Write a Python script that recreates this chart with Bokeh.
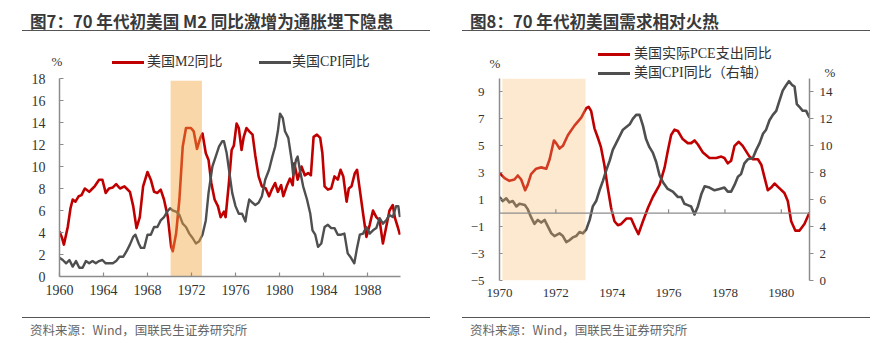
from bokeh.plotting import figure
from bokeh.models import FixedTicker, LinearAxis, Range1d, Div
from bokeh.layouts import row, column
from bokeh.embed import file_html
from bokeh.resources import INLINE

# ---------------- data: chart 7 ----------------
m2_year = [1960.0, 1960.2, 1960.4, 1960.75, 1961.0, 1961.2, 1961.45, 1961.75, 1962.0, 1962.3, 1962.7, 1963.0,
           1963.2, 1963.6, 1963.9, 1964.2, 1964.5, 1964.85, 1965.15, 1965.5, 1965.9, 1966.1, 1966.4, 1966.7,
           1967.0, 1967.3, 1967.6, 1968.0, 1968.3, 1968.6, 1968.9, 1969.2, 1969.5, 1969.85, 1970.15, 1970.3,
           1970.6, 1970.9, 1971.2, 1971.5, 1971.95, 1972.2, 1972.5, 1972.8, 1973.0, 1973.3, 1973.55, 1973.8,
           1974.1, 1974.4, 1974.65, 1974.95, 1975.1, 1975.4, 1975.65, 1975.85, 1976.1, 1976.3, 1976.55, 1976.75,
           1977.0, 1977.25, 1977.55, 1977.8, 1978.1, 1978.4, 1978.75, 1979.05, 1979.3, 1979.6, 1979.85, 1980.15,
           1980.35, 1980.65, 1980.95, 1981.2, 1981.35, 1981.65, 1982.0, 1982.3, 1982.6, 1982.85, 1983.1, 1983.4,
           1983.7, 1983.9, 1984.1, 1984.4, 1984.7, 1985.0, 1985.3, 1985.55, 1985.8, 1986.1, 1986.3, 1986.55,
           1986.85, 1987.05, 1987.3, 1987.6, 1987.9, 1988.2, 1988.5, 1988.8, 1989.1, 1989.4, 1989.7, 1990.0,
           1990.3, 1990.5, 1990.75, 1990.95]
m2_val = [4.1, 3.6, 2.9, 4.5, 6.2, 7.0, 6.8, 7.3, 7.4, 8.0, 7.7, 8.0,
          8.2, 8.8, 8.8, 7.6, 8.0, 8.1, 8.4, 8.0, 8.2, 8.0, 7.7, 6.4,
          4.4, 5.4, 8.2, 9.5, 8.8, 7.7, 7.6, 7.9, 7.0, 5.4, 2.7, 2.3,
          3.9, 7.0, 11.8, 13.5, 13.5, 13.2, 11.6, 12.6, 13.0, 11.2, 10.6, 8.5,
          7.0, 6.4, 5.4, 5.9, 5.4, 8.5, 11.5, 11.9, 13.9, 13.5, 11.5, 12.7,
          13.5, 13.2, 12.9, 11.0, 9.1, 8.2, 8.0, 7.3, 7.9, 8.5, 7.7, 8.3,
          7.3, 8.2, 8.9, 8.3, 10.3, 8.8, 10.0, 9.2, 9.4, 9.2, 12.7, 12.9,
          12.6, 11.2, 8.2, 7.9, 8.0, 9.1, 8.8, 9.7, 9.1, 6.8, 8.0, 8.2,
          9.4, 9.7, 7.9, 5.7, 3.6, 4.7, 6.0, 5.4, 5.1, 3.0, 4.5, 6.0,
          6.5, 5.3, 4.5, 3.8]

cpi7_year = [1960.0, 1960.3, 1960.6, 1960.9, 1961.2, 1961.5, 1961.8, 1962.1, 1962.4, 1962.7, 1963.0, 1963.3,
             1963.6, 1963.9, 1964.2, 1964.5, 1964.85, 1965.15, 1965.45, 1965.8, 1966.1, 1966.4, 1966.7, 1966.9,
             1967.2, 1967.4, 1967.7, 1968.0, 1968.3, 1968.6, 1968.9, 1969.2, 1969.5, 1969.8, 1970.05, 1970.3,
             1970.6, 1970.9, 1971.2, 1971.5, 1971.8, 1972.1, 1972.4, 1972.7, 1973.0, 1973.3, 1973.55, 1973.9,
             1974.2, 1974.5, 1974.8, 1974.95, 1975.2, 1975.45, 1975.7, 1976.0, 1976.3, 1976.6, 1976.9, 1977.05,
             1977.25, 1977.55, 1977.8, 1978.1, 1978.4, 1978.7, 1979.05, 1979.35, 1979.6, 1979.85, 1980.05, 1980.3,
             1980.5, 1980.8, 1981.1, 1981.25, 1981.5, 1981.65, 1981.85, 1982.15, 1982.5, 1982.8, 1983.0, 1983.25,
             1983.5, 1983.8, 1984.1, 1984.4, 1984.7, 1985.0, 1985.3, 1985.6, 1985.9, 1986.2, 1986.5, 1986.8,
             1987.05, 1987.3, 1987.6, 1987.9, 1988.2, 1988.5, 1988.8, 1989.1, 1989.4, 1989.7, 1990.0, 1990.3,
             1990.6, 1990.8, 1990.95]
cpi7_val = [1.7, 1.5, 1.2, 1.5, 0.9, 1.4, 0.8, 0.8, 1.4, 1.2, 1.4, 1.2,
            1.4, 1.5, 1.2, 1.2, 1.2, 1.4, 1.8, 1.8, 2.3, 2.9, 3.6, 3.8,
            3.0, 2.6, 2.6, 3.8, 3.8, 4.5, 4.5, 5.1, 5.4, 5.9, 6.2, 6.0,
            5.9, 5.6, 4.8, 4.5, 3.9, 3.5, 3.0, 3.2, 3.8, 5.1, 7.6, 10.0,
            10.9, 11.8, 12.3, 12.3, 11.2, 9.4, 7.6, 6.4, 5.7, 5.7, 5.0, 6.0,
            7.0, 6.7, 6.5, 6.7, 7.3, 8.8, 9.7, 10.9, 11.8, 13.2, 14.8, 14.4,
            13.2, 12.6, 10.6, 9.2, 10.6, 10.9, 9.7, 8.2, 7.0, 5.7, 4.2, 3.8,
            2.7, 3.0, 4.5, 4.7, 4.4, 4.4, 3.8, 3.8, 3.9, 2.1, 1.7, 1.2,
            2.6, 3.8, 3.9, 4.5, 3.9, 4.2, 4.4, 5.3, 4.8, 5.1, 5.6, 5.4,
            6.4, 6.4, 5.4]

shade7 = [1970.1, 1972.95]
x_range7 = (1960, 1991)
y_range7 = (0, 18)
x_ticks7 = [1960, 1964, 1968, 1972, 1976, 1980, 1984, 1988]
y_ticks7 = [0, 2, 4, 6, 8, 10, 12, 14, 16, 18]

# ---------------- data: chart 8 ----------------
pce_year = [1970.0, 1970.18, 1970.35, 1970.53, 1970.65, 1970.77, 1970.91, 1971.0, 1971.12, 1971.3, 1971.48, 1971.66,
            1971.78, 1971.93, 1972.01, 1972.13, 1972.25, 1972.43, 1972.66, 1972.9, 1973.08, 1973.16, 1973.25, 1973.37,
            1973.49, 1973.6, 1973.72, 1973.84, 1973.96, 1974.08, 1974.2, 1974.32, 1974.5, 1974.67, 1974.82, 1974.93,
            1975.09, 1975.27, 1975.44, 1975.68, 1975.86, 1975.97, 1976.09, 1976.21, 1976.33, 1976.5, 1976.68, 1976.8,
            1976.92, 1977.04, 1977.22, 1977.45, 1977.69, 1977.87, 1977.98, 1978.1, 1978.22, 1978.34, 1978.49, 1978.63,
            1978.87, 1978.99, 1979.17, 1979.29, 1979.41, 1979.52, 1979.64, 1979.76, 1979.91, 1980.11, 1980.23, 1980.35,
            1980.5, 1980.64, 1980.82, 1981.0]
pce_val = [3.0, 2.6, 2.4, 2.5, 2.8, 2.5, 1.7, 2.1, 2.9, 3.3, 3.4, 3.3,
           4.0, 5.4, 5.2, 4.8, 5.0, 5.8, 6.5, 7.1, 7.8, 7.9, 7.6, 6.3,
           5.6, 4.9, 3.6, 1.9, 0.4, -0.6, -0.9, -0.8, -0.4, -0.4, -1.1, -1.55,
           -0.6, 0.4, 1.2, 2.1, 3.4, 4.6, 5.8, 6.2, 6.1, 5.5, 5.2, 5.2,
           5.4, 5.1, 4.5, 4.1, 4.1, 4.2, 4.1, 3.7, 3.9, 5.0, 5.3, 5.0,
           4.2, 4.0, 4.0, 3.6, 2.6, 1.7, 1.9, 2.2, 1.9, 1.5, 0.9, -0.6,
           -1.3, -1.3, -0.8, 0.05]

cpi8_year = [1970.0, 1970.12, 1970.24, 1970.35, 1970.47, 1970.6, 1970.71, 1970.9, 1971.0, 1971.12, 1971.24, 1971.36,
             1971.48, 1971.6, 1971.72, 1971.84, 1971.95, 1972.13, 1972.25, 1972.37, 1972.49, 1972.6, 1972.72, 1972.84,
             1972.96, 1973.08, 1973.2, 1973.31, 1973.43, 1973.55, 1973.67, 1973.79, 1973.91, 1974.02, 1974.14, 1974.26,
             1974.38, 1974.5, 1974.62, 1974.73, 1974.85, 1974.97, 1975.09, 1975.2, 1975.32, 1975.44, 1975.56, 1975.68,
             1975.8, 1975.97, 1976.15, 1976.33, 1976.45, 1976.56, 1976.68, 1976.8, 1976.92, 1977.04, 1977.16, 1977.28,
             1977.45, 1977.63, 1977.81, 1977.98, 1978.1, 1978.22, 1978.34, 1978.46, 1978.57, 1978.69, 1978.81, 1978.99,
             1979.11, 1979.23, 1979.35, 1979.46, 1979.58, 1979.7, 1979.82, 1979.94, 1980.05, 1980.17, 1980.27, 1980.39,
             1980.47, 1980.55, 1980.64, 1980.76, 1980.88, 1981.0]
cpi8_val = [6.2, 5.9, 6.1, 5.8, 5.9, 5.5, 5.7, 5.6, 5.3, 4.7, 4.2, 4.5,
            4.3, 4.5, 4.0, 3.5, 3.3, 3.5, 3.3, 2.85, 3.0, 3.2, 3.3, 3.6,
            3.5, 3.8, 4.5, 5.5, 5.9, 6.7, 7.4, 8.2, 8.9, 9.7, 10.2, 10.7,
            11.2, 11.4, 11.6, 12.0, 12.3, 12.3, 11.5, 10.5, 9.9, 9.5, 8.8, 7.8,
            7.3, 6.8, 6.6, 6.2, 6.2, 5.7, 5.6, 5.5, 4.9, 5.5, 6.4, 7.0,
            6.9, 6.7, 6.8, 6.9, 6.6, 6.6, 7.1, 7.7, 7.9, 8.7, 9.0, 9.1,
            9.7, 10.2, 10.9, 11.2, 11.9, 12.3, 12.6, 13.4, 14.1, 14.5, 14.8, 14.5,
            14.4, 13.1, 12.9, 12.6, 12.6, 12.1]

shade8 = [1970.1, 1973.05]
x_range8 = (1970, 1981)
yl_range8 = (-5, 10)
yr_range8 = (0, 15)
x_ticks8 = [1970, 1972, 1974, 1976, 1978, 1980]
yl_ticks8 = [-5, -3, -1, 1, 3, 5, 7, 9]
yr_ticks8 = [0, 2, 4, 6, 8, 10, 12, 14]

# ---------------- styles ----------------
RED = "#C00000"
GREY = "#4F4F4F"
AXIS = "#8C8C8C"
TXT = "#333333"
SERIF_CSS = "'Liberation Serif','Noto Sans CJK SC'"


def style_axis(ax, size="14px", tick_in=4, tick_out=0, standoff=8):
    ax.axis_line_color = AXIS
    ax.axis_line_width = 1.5
    ax.major_tick_line_color = AXIS
    ax.major_tick_line_width = 1.2
    ax.major_tick_in = tick_in
    ax.major_tick_out = tick_out
    ax.minor_tick_line_color = None
    ax.major_label_text_font = "Liberation Serif"
    ax.major_label_text_font_size = size
    ax.major_label_text_color = TXT
    ax.major_label_standoff = standoff


def abs_text(text, left, cy, size=14, align_center=False):
    tr = "transform:translateX(-50%);" if align_center else ""
    return ('<div style="position:absolute;left:%spx;top:%spx;line-height:18px;height:18px;%s'
            'font-family:%s;font-size:%spx;color:%s;white-space:nowrap;">%s</div>'
            % (left, cy - 9, tr, SERIF_CSS, size, TXT, text))


def abs_swatch(color, left, cy, width=32):
    return ('<div style="position:absolute;left:%spx;top:%spx;width:%spx;height:3px;background:%s;"></div>'
            % (left, cy - 1.5, width, color))


def header_div(title, left, extras):
    title_html = ('<div style="position:absolute;left:%dpx;top:0px;width:408px;height:26px;box-sizing:border-box;'
                  'border-bottom:1.5px solid #555;padding-left:8px;padding-top:6px;line-height:20px;'
                  'font-family:\'Noto Sans CJK SC\';font-weight:bold;font-size:16.6px;color:#3a3a3a;'
                  'white-space:nowrap;">%s</div>' % (left, title))
    html = ('<div style="position:relative;width:437px;height:76px;">%s%s</div>'
            % (title_html, "".join(extras)))
    return Div(text=html, width=437, height=76)


def foot_div(text, left):
    html = ('<div style="margin-left:%dpx;margin-top:7px;width:408px;box-sizing:border-box;'
            'border-top:1.5px solid #555;padding-left:8px;padding-top:4px;line-height:16px;'
            'font-family:\'Noto Sans CJK SC\';font-size:12.5px;color:#666;white-space:nowrap;">%s</div>'
            % (left, text))
    return Div(text=html, width=437, height=43)


# ---------------- chart 7 ----------------
p1 = figure(width=437, height=235, x_range=Range1d(*x_range7), y_range=Range1d(*y_range7),
            output_backend="svg", toolbar_location=None, margin=(-16, 0, 0, 0),
            min_border_left=59, min_border_right=37, min_border_top=8, min_border_bottom=29)
p1.outline_line_color = None
p1.grid.grid_line_color = None
p1.background_fill_color = None
p1.border_fill_color = None

p1.line(m2_year, m2_val, line_color=RED, line_width=2.6, line_join="round")
p1.line(cpi7_year, cpi7_val, line_color=GREY, line_width=2.4, line_join="round")
p1.quad(left=[shade7[0]], right=[shade7[1]], bottom=[-1], top=[17.8],
        fill_color="#F4A63E", fill_alpha=0.45, line_color=None)

p1.xaxis.ticker = FixedTicker(ticks=x_ticks7)
p1.yaxis.ticker = FixedTicker(ticks=y_ticks7)
style_axis(p1.xaxis[0], standoff=8)
style_axis(p1.yaxis[0], standoff=14)

# ---------------- chart 8 ----------------
p2 = figure(width=437, height=235, x_range=Range1d(*x_range8), y_range=Range1d(*yl_range8),
            output_backend="svg", toolbar_location=None, margin=(-16, 0, 0, 0),
            min_border_left=52, min_border_right=75, min_border_top=8, min_border_bottom=25)
p2.outline_line_color = None
p2.grid.grid_line_color = None
p2.background_fill_color = None
p2.border_fill_color = None
p2.extra_y_ranges = {"cpi": Range1d(*yr_range8)}

p2.line(pce_year, pce_val, line_color=RED, line_width=2.6, line_join="round")
p2.line(cpi8_year, cpi8_val, line_color=GREY, line_width=2.6, line_join="round", y_range_name="cpi")
p2.quad(left=[shade8[0]], right=[shade8[1]], bottom=[yl_range8[0]], top=[yl_range8[1]],
        fill_color="#F8BC6C", fill_alpha=0.32, line_color=None)

# zero line with upward tick marks at the x ticks
p2.segment(x0=[x_range8[0]], y0=[0], x1=[x_range8[1]], y1=[0], line_color=AXIS, line_width=1.2)
p2.segment(x0=x_ticks8, y0=[0] * len(x_ticks8), x1=x_ticks8, y1=[0.3] * len(x_ticks8),
           line_color=AXIS, line_width=1.2)

# bottom axis: labels only
p2.xaxis.ticker = FixedTicker(ticks=x_ticks8)
style_axis(p2.xaxis[0], size="13px", standoff=8)
p2.xaxis[0].axis_line_color = None
p2.xaxis[0].major_tick_line_color = None

p2.yaxis.ticker = FixedTicker(ticks=yl_ticks8)
style_axis(p2.yaxis[0], size="13px", tick_in=3, standoff=15)

ax_r = LinearAxis(y_range_name="cpi", ticker=FixedTicker(ticks=yr_ticks8))
style_axis(ax_r, size="13px", tick_in=0, tick_out=4, standoff=6)
p2.add_layout(ax_r, "right")

# ---------------- headers (title, unit labels, legends) ----------------
head1 = header_div("图7：70 年代初美国 M2 同比激增为通胀埋下隐患", 17, [
    abs_text("%", 52, 57, 13, align_center=True),
    abs_swatch(RED, 107, 57), abs_text("美国M2同比", 142, 57),
    abs_swatch(GREY, 254, 57), abs_text("美国CPI同比", 287, 57),
])
head2 = header_div("图8：70 年代初美国需求相对火热", 10, [
    abs_text("%", 43, 59, 13, align_center=True),
    abs_text("%", 378, 68, 13, align_center=True),
    abs_swatch(RED, 146, 49), abs_text("美国实际PCE支出同比", 182, 49),
    abs_swatch(GREY, 146, 68), abs_text("美国CPI同比（右轴）", 182, 68),
])

left = column(head1, p1, foot_div("资料来源：Wind，国联民生证券研究所", 17))
right = column(head2, p2, foot_div("资料来源：Wind，国联民生证券研究所", 10))
layout = row(left, right)

open("out.html", "w").write(file_html(layout, INLINE))
